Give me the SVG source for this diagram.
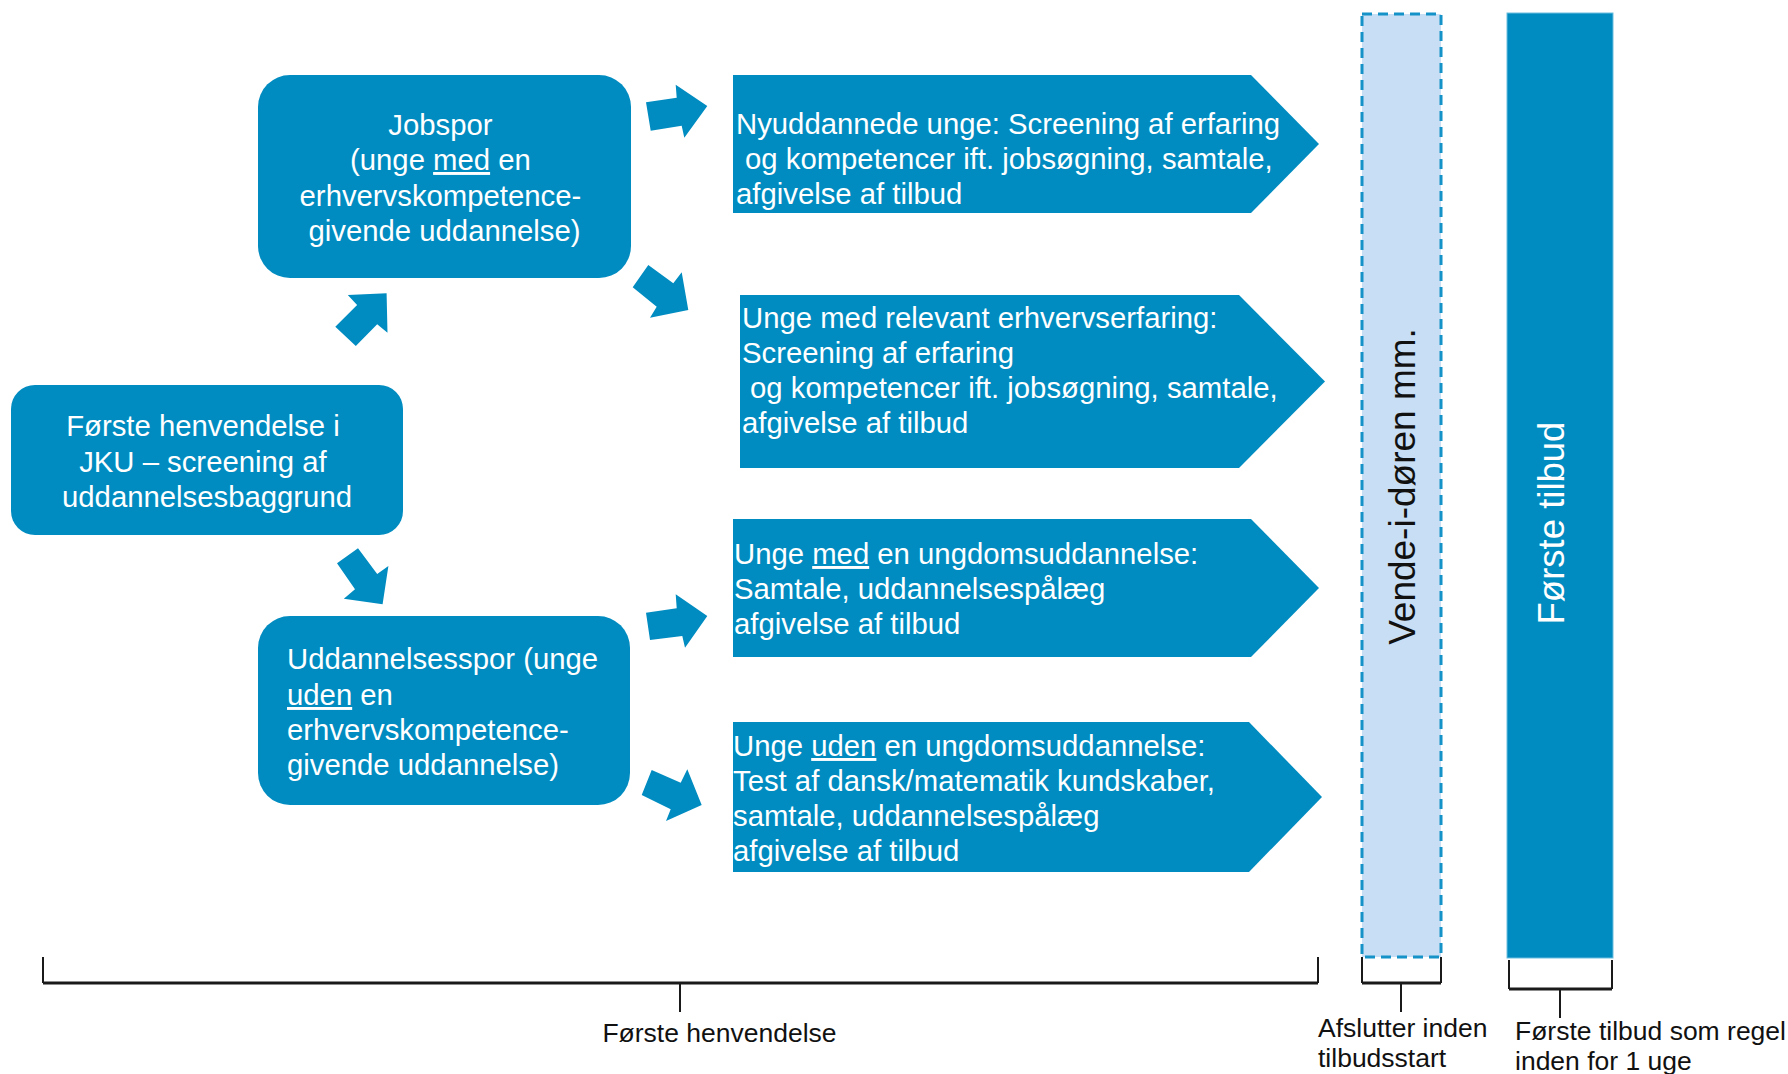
<svg xmlns="http://www.w3.org/2000/svg" width="1788" height="1074" viewBox="0 0 1788 1074">
<style>
  .box { fill: #008CC1; }
  .wt { fill: #FFFFFF; font-family: "Liberation Sans", Arial, sans-serif; font-size: 29.3px; }
  .bt { fill: #111111; font-family: "Liberation Sans", Arial, sans-serif; font-size: 26.5px; }
  .ul { text-decoration: underline; }
  .arrow { fill: #008CC1; }
  .brk { fill: none; stroke: #1a1a1a; stroke-width: 2; }
  .brkh { fill: none; stroke: #1a1a1a; stroke-width: 3; }
</style>
<rect width="1788" height="1074" fill="#FFFFFF"/>

<g id="connectors">
  <polygon class="arrow" points="347.8,295 386.6,293.3 387.5,332.7 377.2,324.3 355.8,346 335.3,326.7 357.1,305"/>
  <polygon class="arrow" points="358,548.3 337,563.3 355,589.3 343.8,598.7 382.6,604.3 388.4,566 377.2,574"/>
  <polygon class="arrow" points="646,102.3 676.7,97.7 675.7,84.7 707.3,106 684.3,137.7 681.7,125.7 650.7,130.7"/>
  <polygon class="arrow" points="648.3,265 673.3,283.3 681.7,272.3 688.3,310 650,317.7 656.7,306.7 632.7,287.3"/>
  <polygon class="arrow" points="646,612.7 676.7,608.3 675.7,594.3 707.3,616 685,647.7 682.3,636 650,640"/>
  <polygon class="arrow" points="651.7,770 680.7,782.7 687.3,769.3 701.7,805 666,821 670.7,809.3 641.7,795"/>
</g>

<g id="node-foerste-henvendelse">
  <rect class="box" x="11" y="385" width="392" height="150" rx="24" ry="24"/>
  <text class="wt" text-anchor="middle">
    <tspan x="207" y="436">Første henvendelse i</tspan>
    <tspan x="207" y="472">JKU – screening af</tspan>
    <tspan x="207" y="507">uddannelsesbaggrund</tspan>
  </text>
</g>

<g id="node-jobspor">
  <rect class="box" x="258" y="75" width="373" height="203" rx="32" ry="32"/>
  <text class="wt" text-anchor="middle">
    <tspan x="444.5" y="135">Jobspor</tspan>
    <tspan x="444.5" y="170">(unge <tspan class="ul">med</tspan> en</tspan>
    <tspan x="444.5" y="206">erhvervskompetence-</tspan>
    <tspan x="444.5" y="241">givende uddannelse)</tspan>
  </text>
</g>

<g id="node-uddannelsesspor">
  <rect class="box" x="258" y="616" width="372" height="189" rx="32" ry="32"/>
  <text class="wt">
    <tspan x="287" y="669">Uddannelsesspor (unge</tspan>
    <tspan x="287" y="705"><tspan class="ul">uden</tspan> en</tspan>
    <tspan x="287" y="740">erhvervskompetence-</tspan>
    <tspan x="287" y="775">givende uddannelse)</tspan>
  </text>
</g>

<g id="node-nyuddannede">
  <path class="box" d="M733,75 H1251 L1319,144 L1251,213 H733 Z"/>
  <text class="wt">
    <tspan x="736" y="134">Nyuddannede unge: Screening af erfaring</tspan>
    <tspan x="745" y="169">og kompetencer ift. jobsøgning, samtale,</tspan>
    <tspan x="736" y="204">afgivelse af tilbud</tspan>
  </text>
</g>

<g id="node-relevant-erfaring">
  <path class="box" d="M740,295 H1239 L1325,381.5 L1239,468 H740 Z"/>
  <text class="wt">
    <tspan x="742" y="328">Unge med relevant erhvervserfaring:</tspan>
    <tspan x="742" y="363">Screening af erfaring</tspan>
    <tspan x="750" y="398">og kompetencer ift. jobsøgning, samtale,</tspan>
    <tspan x="742" y="433">afgivelse af tilbud</tspan>
  </text>
</g>

<g id="node-med-ungdomsuddannelse">
  <path class="box" d="M733,519 H1251 L1319,588 L1251,657 H733 Z"/>
  <text class="wt">
    <tspan x="734" y="564">Unge <tspan class="ul">med</tspan> en ungdomsuddannelse:</tspan>
    <tspan x="734" y="599">Samtale, uddannelsespålæg</tspan>
    <tspan x="734" y="634">afgivelse af tilbud</tspan>
  </text>
</g>

<g id="node-uden-ungdomsuddannelse">
  <path class="box" d="M733,722 H1249 L1322,797 L1249,872 H733 Z"/>
  <text class="wt">
    <tspan x="733" y="756">Unge <tspan class="ul">uden</tspan> en ungdomsuddannelse:</tspan>
    <tspan x="733" y="791">Test af dansk/matematik kundskaber,</tspan>
    <tspan x="733" y="826">samtale, uddannelsespålæg</tspan>
    <tspan x="733" y="861">afgivelse af tilbud</tspan>
  </text>
</g>

<g id="node-vende-i-doeren">
  <rect x="1362" y="14" width="79" height="943" fill="#C8DEF4" stroke="#1592C8" stroke-width="3" stroke-dasharray="10,6"/>
  <text transform="translate(1415,486.5) rotate(-90)" text-anchor="middle" font-family="Liberation Sans, Arial, sans-serif" font-size="37" fill="#111111">Vende-i-døren mm.</text>
</g>

<g id="node-foerste-tilbud">
  <rect x="1507" y="13" width="106" height="945" fill="#008CC1" stroke="#6DBDE0" stroke-width="1"/>
  <text transform="translate(1564,523) rotate(-90)" text-anchor="middle" font-family="Liberation Sans, Arial, sans-serif" font-size="36.5" fill="#FFFFFF">Første tilbud</text>
</g>

<g id="brackets">
  <path class="brk" d="M43,957 V983 M1318,957 V983 M680,983 V1012"/>
  <path class="brkh" d="M43,983 H1318"/>
  <path class="brk" d="M1362,957 V983 M1441,957 V983 M1401,983 V1012"/>
  <path class="brkh" d="M1362,983 H1441"/>
  <path class="brk" d="M1509,960 V989 M1612,960 V989 M1560,989 V1018"/>
  <path class="brkh" d="M1509,989 H1612"/>
  <text class="bt" x="719.5" y="1042" text-anchor="middle">Første henvendelse</text>
  <text class="bt"><tspan x="1318" y="1037">Afslutter inden</tspan><tspan x="1318" y="1067">tilbudsstart</tspan></text>
  <text class="bt"><tspan x="1515" y="1040">Første tilbud som regel</tspan><tspan x="1515" y="1070">inden for 1 uge</tspan></text>
</g>
</svg>
